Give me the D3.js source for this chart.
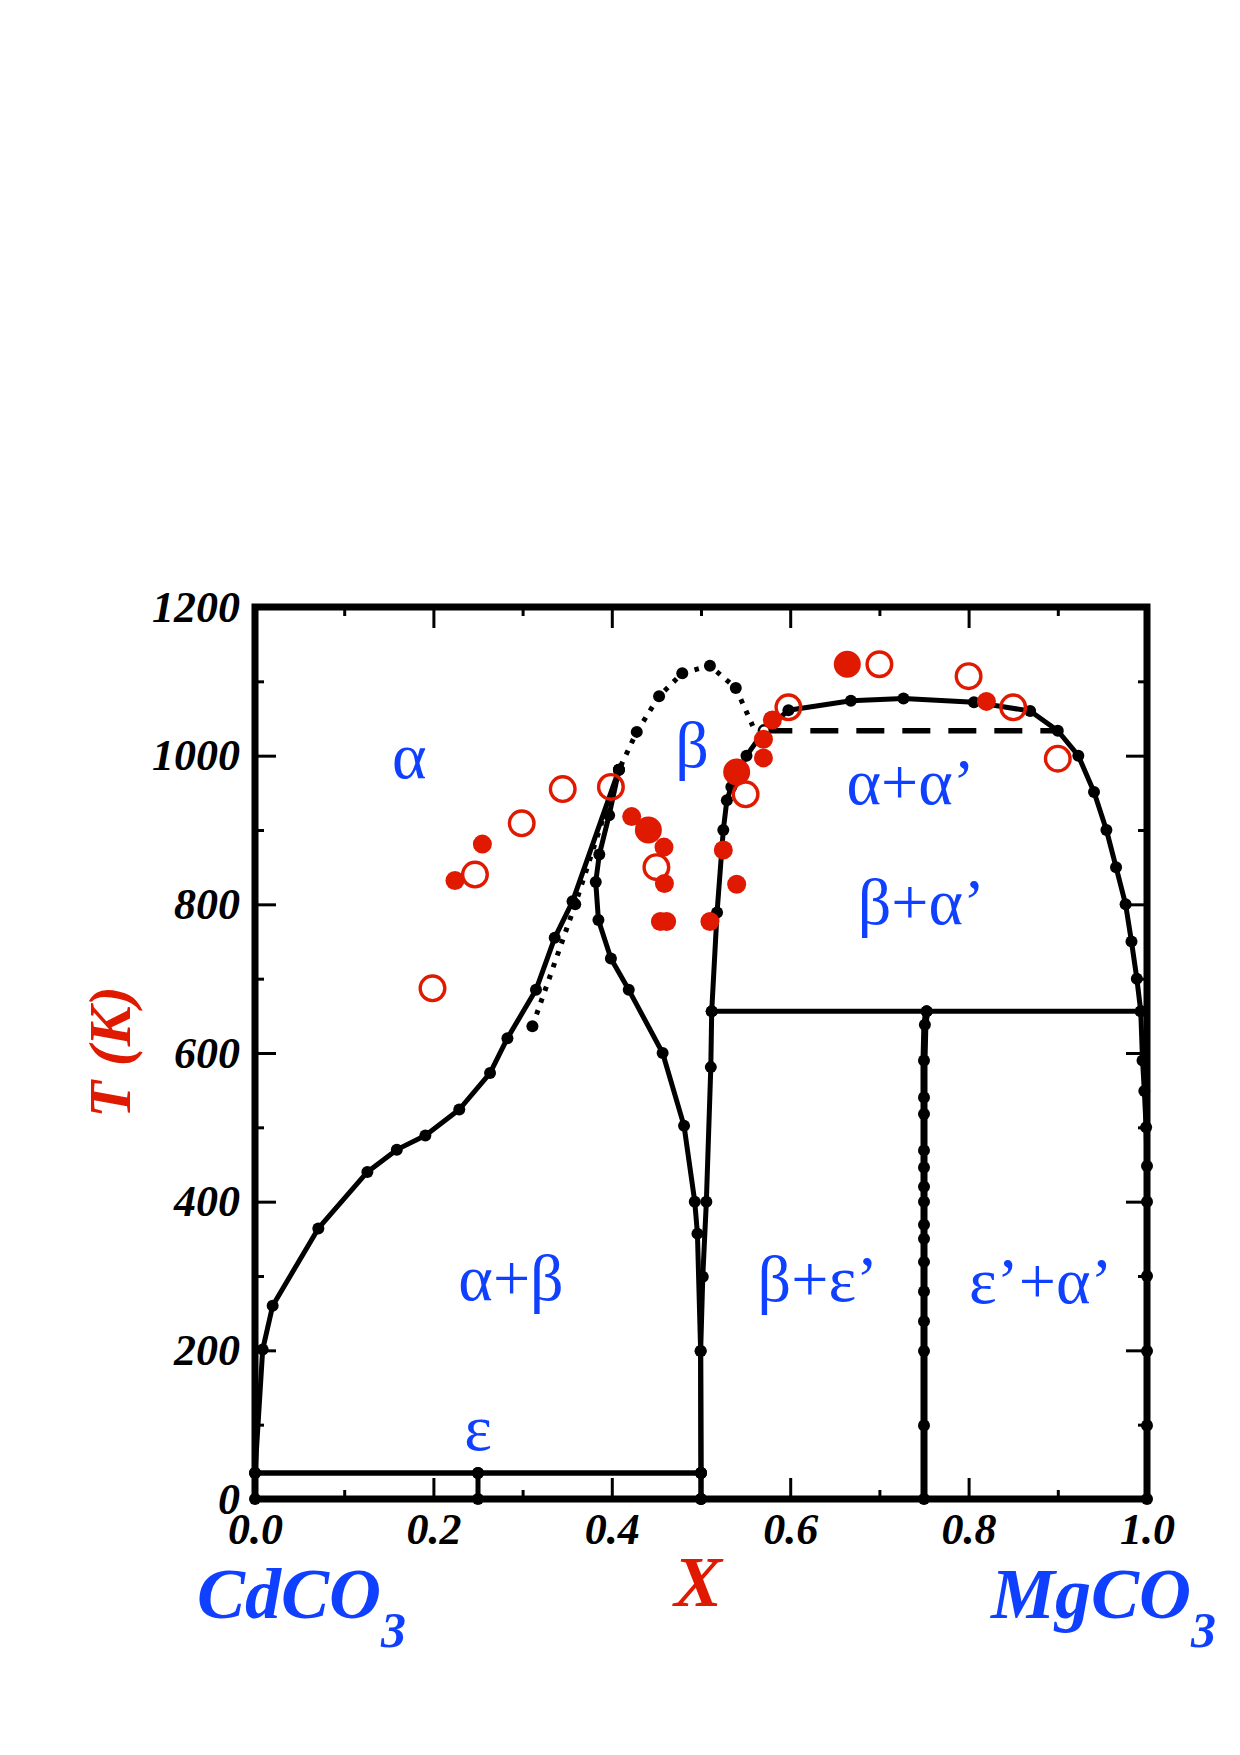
<!DOCTYPE html>
<html>
<head>
<meta charset="utf-8">
<script src="https://cdn.jsdelivr.net/npm/d3@7"></script>
<style>
  html, body { margin: 0; padding: 0; background: #fff; }
  svg { display: block; }
</style>
</head>
<body>
<svg id="chart" width="1240" height="1755"></svg>
<script>
// ---------------- data ----------------
const xTicks = [0, 0.2, 0.4, 0.6, 0.8, 1.0];
const xMinorTicks = [0.1, 0.3, 0.5, 0.7, 0.9];
const yTicks = [0, 200, 400, 600, 800, 1000, 1200];
const yMinorTicks = [100, 300, 500, 700, 900, 1100];

// alpha solvus (CdCO3-rich side)
const alphaBoundary = [[0,0],[0,35],[0.0086,201],[0.0198,260],[0.071,364],[0.126,440],[0.159,470],[0.191,489],[0.229,524],[0.2635,573],[0.283,620],[0.315,685],[0.336,755],[0.356,804],[0.408,981]];
// beta boundary, Cd-rich side
const betaLeftBoundary = [[0.408,981],[0.397,920],[0.386,867],[0.382,830],[0.385,779],[0.399,727],[0.419,685],[0.457,600],[0.481,502],[0.493,400],[0.496,357],[0.4996,199],[0.5,35],[0.5,0]];
// beta boundary, Mg-rich side + alpha' boundary
const betaRightBoundary = [[0.5,0],[0.5,35],[0.4996,199],[0.502,299],[0.506,400],[0.511,581],[0.512,656],[0.518,789],[0.525,900],[0.529,940],[0.534,958],[0.551,1000],[0.571,1033.5],[0.598,1061],[0.668,1074],[0.727,1077],[0.806,1072],[0.869,1060],[0.900,1033.5],[0.923,1000],[0.9406,951],[0.9545,900],[0.9653,850],[0.976,800],[0.9826,750],[0.9886,700],[0.993,656],[0.995,590],[0.997,549],[0.999,500],[1.0,448],[1.0,400],[1.0,300],[1.0,199],[1.0,99],[1.0,0]];
// epsilon' (x = 0.75) ordered phase boundary
const epsPrimeLine = [[0.753,656],[0.751,638],[0.75,590],[0.75,540],[0.75,518],[0.75,469],[0.75,446],[0.75,420],[0.75,400],[0.75,369],[0.75,350],[0.75,319],[0.75,279],[0.75,239],[0.75,199],[0.75,99],[0.75,0]];
// horizontal at 656 K
const eutectoidLine = [[0.512,656],[0.753,656],[0.993,656]];
// epsilon line at 35 K
const epsLine = [[0,35],[0.25,35],[0.5,35]];
const epsStem = [[0.25,35],[0.25,0]];
// dashed line at 1033.5 K
const dashedLine = [[0.571,1033.5],[0.900,1033.5]];
// dotted curve
const dottedCurve = [[0.311,636],[0.359,800],[0.408,981],[0.428,1032],[0.453,1080],[0.479,1111],[0.510,1121],[0.539,1091],[0.558,1040]];

// experimental points
const expFilled = [[0.2242,832],[0.2549,881],[0.4223,918],[0.4585,877],[0.459,828],[0.4545,777],[0.4615,777],[0.510,777],[0.525,873],[0.540,827],[0.570,997],[0.570,1022],[0.580,1048],[0.820,1073]];
const expFilledLarge = [[0.441,900],[0.540,978],[0.664,1123]];
const expOpen = [[0.199,687],[0.2466,840],[0.299,909],[0.345,955],[0.399,958],[0.450,850],[0.550,948],[0.598,1065],[0.700,1123],[0.800,1107],[0.850,1065],[0.900,996]];

// region labels
const regionLabels = [
  {t:"α", x:0.173, T:970},
  {t:"β", x:0.490, T:985},
  {t:"α+α’", x:0.735, T:935},
  {t:"β+α’", x:0.747, T:773},
  {t:"α+β", x:0.287, T:268},
  {t:"ε", x:0.250, T:66},
  {t:"β+ε’", x:0.631, T:266},
  {t:"ε’+α’", x:0.881, T:264}
];

// ---------------- drawing ----------------
const BLUE = "#1040ff", RED = "#e01a00";
const svg = d3.select("#chart");
svg.append("rect").attr("width",1240).attr("height",1755).attr("fill","#fff");

const x = d3.scaleLinear().domain([0,1]).range([255,1147]);
const y = d3.scaleLinear().domain([0,1200]).range([1499,607]);

const line = d3.line().x(d => x(d[0])).y(d => y(d[1]));
const serif = "'Liberation Serif','Times New Roman',Times,serif";

function styleAxis(g){
  g.select(".domain").remove();
  g.selectAll(".tick line").attr("stroke","#000").attr("stroke-width",3);
  g.selectAll(".tick text").attr("fill","#000")
    .style("font-family",serif).style("font-weight","bold").style("font-style","italic").style("font-size","44px");
}
const fmtX = d3.format(".1f");
svg.append("g").attr("transform",`translate(0,${y(0)})`)
  .call(d3.axisBottom(x).tickValues(xTicks).tickSize(-21).tickPadding(14).tickFormat(fmtX)).call(styleAxis);
svg.append("g").attr("transform",`translate(0,${y(0)})`)
  .call(d3.axisBottom(x).tickValues(xMinorTicks).tickSize(-9).tickFormat("")).call(styleAxis);
svg.append("g").attr("transform",`translate(0,${y(1200)})`)
  .call(d3.axisTop(x).tickValues(xTicks).tickSize(-21).tickFormat("")).call(styleAxis);
svg.append("g").attr("transform",`translate(0,${y(1200)})`)
  .call(d3.axisTop(x).tickValues(xMinorTicks).tickSize(-9).tickFormat("")).call(styleAxis);
svg.append("g").attr("transform",`translate(${x(0)},0)`)
  .call(d3.axisLeft(y).tickValues(yTicks).tickSize(-21).tickPadding(15).tickFormat(d3.format("d"))).call(styleAxis);
svg.append("g").attr("transform",`translate(${x(0)},0)`)
  .call(d3.axisLeft(y).tickValues(yMinorTicks).tickSize(-9).tickFormat("")).call(styleAxis);
svg.append("g").attr("transform",`translate(${x(1)},0)`)
  .call(d3.axisRight(y).tickValues(yTicks).tickSize(-21).tickFormat("")).call(styleAxis);
svg.append("g").attr("transform",`translate(${x(1)},0)`)
  .call(d3.axisRight(y).tickValues(yMinorTicks).tickSize(-9).tickFormat("")).call(styleAxis);

// curves
const curves = svg.append("g").attr("fill","none").attr("stroke","#000").attr("stroke-linejoin","round");
curves.append("path").datum(dottedCurve).attr("d",line).attr("stroke-width",5).attr("stroke-dasharray","4.5,8");
curves.append("path").datum(dashedLine).attr("d",line).attr("stroke-width",5.5).attr("stroke-dasharray","28,18");
[alphaBoundary, betaLeftBoundary, betaRightBoundary, eutectoidLine, epsStem].forEach(c =>
  curves.append("path").datum(c).attr("d",line).attr("stroke-width",5));
curves.append("path").datum(epsLine).attr("d",line).attr("stroke-width",5.5);
curves.append("path").datum(epsPrimeLine).attr("d",line).attr("stroke-width",7);

// curve vertex dots
const dots = svg.append("g").attr("fill","#000");
const dotSets = [alphaBoundary, betaLeftBoundary, betaRightBoundary.filter(d => d[0] !== 0.571), epsPrimeLine, eutectoidLine, epsLine, epsStem, dottedCurve.slice(0,-1)];
dotSets.forEach(s => dots.selectAll(null).data(s).enter().append("circle")
  .attr("cx",d=>x(d[0])).attr("cy",d=>y(d[1])).attr("r",6));
svg.append("circle").datum(dashedLine[0]).attr("cx",d=>x(d[0])).attr("cy",d=>y(d[1]))
  .attr("r",5.5).attr("fill","#fff").attr("stroke","#000").attr("stroke-width",2.5);

// frame
svg.append("rect").attr("x",x(0)).attr("y",y(1200)).attr("width",x(1)-x(0)).attr("height",y(0)-y(1200))
  .attr("fill","none").attr("stroke","#000").attr("stroke-width",7);

// experimental points
const exp = svg.append("g");
exp.selectAll(".f").data(expFilled).enter().append("circle")
  .attr("cx",d=>x(d[0])).attr("cy",d=>y(d[1])).attr("r",9.5).attr("fill",RED);
exp.selectAll(".fl").data(expFilledLarge).enter().append("circle")
  .attr("cx",d=>x(d[0])).attr("cy",d=>y(d[1])).attr("r",13.5).attr("fill",RED);
exp.selectAll(".o").data(expOpen).enter().append("circle")
  .attr("cx",d=>x(d[0])).attr("cy",d=>y(d[1])).attr("r",12.3).attr("fill","none").attr("stroke",RED).attr("stroke-width",3.4);

// region labels
svg.append("g").selectAll("text").data(regionLabels).enter().append("text")
  .attr("x",d=>x(d.x)).attr("y",d=>y(d.T)).attr("text-anchor","middle")
  .style("font-family",serif).style("font-size","66px").attr("fill",BLUE).text(d=>d.t);

// axis titles
svg.append("text").attr("transform","translate(130,1052) rotate(-90)").attr("text-anchor","middle")
  .style("font-family",serif).style("font-weight","bold").style("font-style","italic").style("font-size","60px")
  .attr("fill",RED).text("T (K)");
svg.append("text").attr("x",698).attr("y",1606).attr("text-anchor","middle")
  .style("font-family",serif).style("font-weight","bold").style("font-style","italic").style("font-size","72px")
  .attr("fill",RED).text("X");

function formula(xPos, base){
  const t = svg.append("text").attr("x",xPos).attr("y",1618)
    .style("font-family",serif).style("font-weight","bold").style("font-style","italic").style("font-size","72px")
    .attr("fill",BLUE);
  t.append("tspan").text(base);
  t.append("tspan").attr("dy",29).style("font-size","50px").text("3");
}
formula(197, "CdCO");
formula(991, "MgCO");
</script>
</body>
</html>
